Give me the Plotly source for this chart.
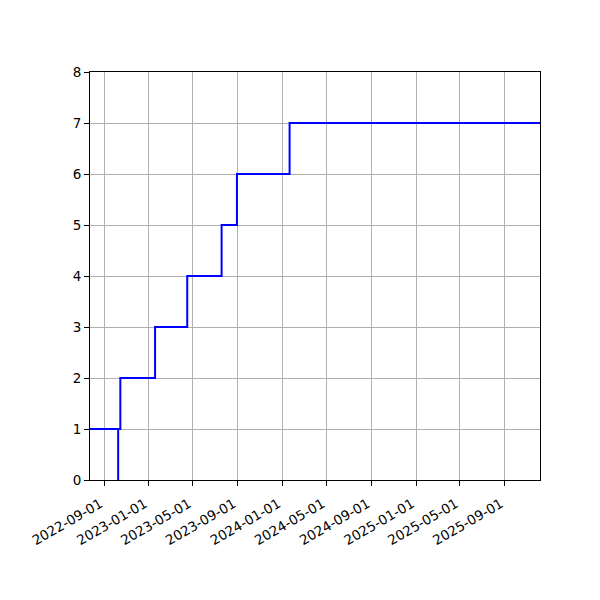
import plotly.graph_objects as go

# Data (step series, hv shape)
dates = ["2022-07-24", "2022-10-09", "2022-10-09", "2022-10-15", "2023-01-18",
         "2023-04-16", "2023-07-19", "2023-08-30", "2024-01-21", "2025-12-06"]
counts = [1, 0, 1, 2, 3, 4, 5, 6, 7, 7]

tick_dates = ["2022-09-01", "2023-01-01", "2023-05-01", "2023-09-01", "2024-01-01",
              "2024-05-01", "2024-09-01", "2025-01-01", "2025-05-01", "2025-09-01"]
y_ticks = [0, 1, 2, 3, 4, 5, 6, 7, 8]

fig = go.Figure()
fig.add_trace(go.Scatter(
    x=dates, y=counts, mode="lines", line=dict(color="blue", width=2, shape="hv"),
    showlegend=False,
))

axis_common = dict(
    showline=True, linecolor="black", linewidth=1, mirror=True,
    ticks="outside", ticklen=5, tickwidth=1, tickcolor="black",
    showgrid=True, gridcolor="#b0b0b0", gridwidth=1, zeroline=False,
    tickfont=dict(family="DejaVu Sans", size=13.5, color="black"),
)

fig.update_layout(
    width=600, height=600,
    margin=dict(l=82, r=68, t=64, b=128),
    plot_bgcolor="white", paper_bgcolor="white",
    xaxis=dict(range=[dates[0], dates[-1]], tickvals=tick_dates, ticktext=tick_dates,
               tickangle=-30, ticklabelstandoff=5, ticklabelshift=-4, **axis_common),
    yaxis=dict(range=[0, 8], tickvals=y_ticks, **axis_common),
)

fig.write_html("out.html")
